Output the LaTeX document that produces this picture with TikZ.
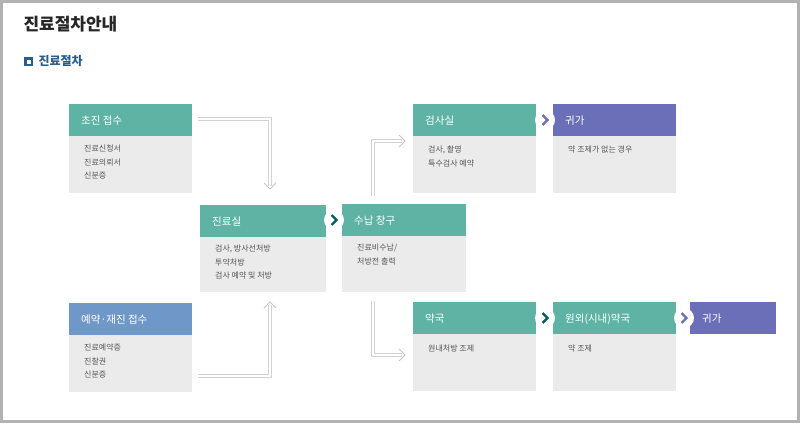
\documentclass[tikz,border=0pt]{standalone}
\usepackage{fontspec}
\setmainfont{Noto Sans CJK KR}
\usetikzlibrary{arrows.meta}
\definecolor{teal1}{HTML}{5FB3A5}
\definecolor{blue1}{HTML}{6F98C8}
\definecolor{purp}{HTML}{6B6FB8}
\definecolor{bodyg}{HTML}{EBEBEB}
\definecolor{txtg}{HTML}{555555}
\definecolor{navy}{HTML}{2A5C8C}
\tikzset{
 hdr/.style={anchor=north west,minimum height=32pt,text=white,font=\fontsize{10.5}{12}\selectfont,inner xsep=12pt,align=left,text depth=0pt},
 bodytxt/.style={anchor=north west,text=txtg,font=\fontsize{8}{13.5}\selectfont,align=left,inner sep=0pt},
 flow/.style={draw=gray!35,double=white,double distance=2pt,line width=0.8pt},
 tipc/.style={draw=gray!45,line width=1pt},
 chev/.style={circle,fill=white,minimum size=20pt,inner sep=0pt},
}
\newcommand{\stepbox}[7]{% name,x1,y1,x2,y2,color,title ; body later
 \fill[bodyg] (#2,#3) rectangle (#4,#5);
 \fill[#6] (#2,#3) rectangle (#4,#3+32);
 \node[hdr] (#1) at (#2,#3) {#7};
}
\begin{document}
\begin{tikzpicture}[x=1pt,y=-1pt]
\fill[white] (0,0) rectangle (800,423);
\draw[gray!60,line width=3pt] (1.5,1.5) rectangle (798.5,421.5);
\useasboundingbox (0,0) rectangle (800,423);
\node[anchor=west,font=\fontsize{17}{20}\selectfont\bfseries,text=black!85] (title) at (20,24) {진료절차안내};
\fill[navy] (24,57) rectangle (33,66);
\fill[white] (26.5,59.5) rectangle (30.5,63.5);
\node[anchor=west,font=\fontsize{12}{14}\selectfont\bfseries,text=navy] (sub) at (35,61) {진료절차};
% boxes
\stepbox{a}{69}{104}{192}{193}{teal1}{초진 접수}
\node[bodytxt] (ab) at (84,145) {진료신청서\\진료의뢰서\\신분증};
\stepbox{b}{69}{303}{192}{392}{blue1}{예약·재진 접수}
\node[bodytxt] (bb) at (84,344) {진료예약증\\진찰권\\신분증};
\stepbox{c}{200}{205}{326}{292}{teal1}{진료실}
\node[bodytxt] (cb) at (215,245) {검사, 방사선처방\\투약처방\\검사 예약 및 처방};
\stepbox{d}{342}{204}{466}{292}{teal1}{수납 창구}
\node[bodytxt] (db) at (357,244) {진료비수납/\\처방전 출력};
\stepbox{e}{413}{104}{536}{193}{teal1}{검사실}
\node[bodytxt] (eb) at (428,146) {검사, 촬영\\특수검사 예약};
\stepbox{f}{553}{104}{676}{193}{purp}{귀가}
\node[bodytxt] (fb) at (568,146) {약 조제가 없는 경우};
\stepbox{g}{413}{302}{536}{391}{teal1}{약국}
\node[bodytxt] (gb) at (428,345) {원내처방 조제};
\stepbox{h}{553}{302}{676}{391}{teal1}{원외(시내)약국}
\node[bodytxt] (hb) at (568,345) {약 조제};
\fill[purp] (690,302) rectangle (776,334);
\node[hdr] (k) at (690,302) {귀가};
% chevrons
\foreach \n/\x/\y/\c in {c1/334/220/teal!70!black, c2/545/120/purp, c3/545/318/teal!70!black, c4/684/318/purp}{
 \node[chev] (\n) at (\x,\y) {};
 \draw[\c,line width=2.2pt] (\x-2.5,\y-5) -- (\x+2.5,\y) -- (\x-2.5,\y+5);
}
% flow arrows
\coordinate (p1) at (198,119); \coordinate (p1e) at (270,186);
\draw[flow] (p1) -| (p1e);
\draw[tipc] (264,183) -- (270,189) -- (276,183);
\coordinate (p2) at (198,376); \coordinate (p2e) at (270,305);
\draw[flow] (p2) -| (p2e);
\draw[tipc] (264,308) -- (270,302) -- (276,308);
\coordinate (p3) at (373,196); \coordinate (p3e) at (402,141);
\draw[flow] (p3) |- (p3e);
\draw[tipc] (399,135) -- (405,141) -- (399,147);
\coordinate (p4) at (373,301); \coordinate (p4e) at (402,355);
\draw[flow] (p4) |- (p4e);
\draw[tipc] (399,349) -- (405,355) -- (399,361);
\end{tikzpicture}
\end{document}
